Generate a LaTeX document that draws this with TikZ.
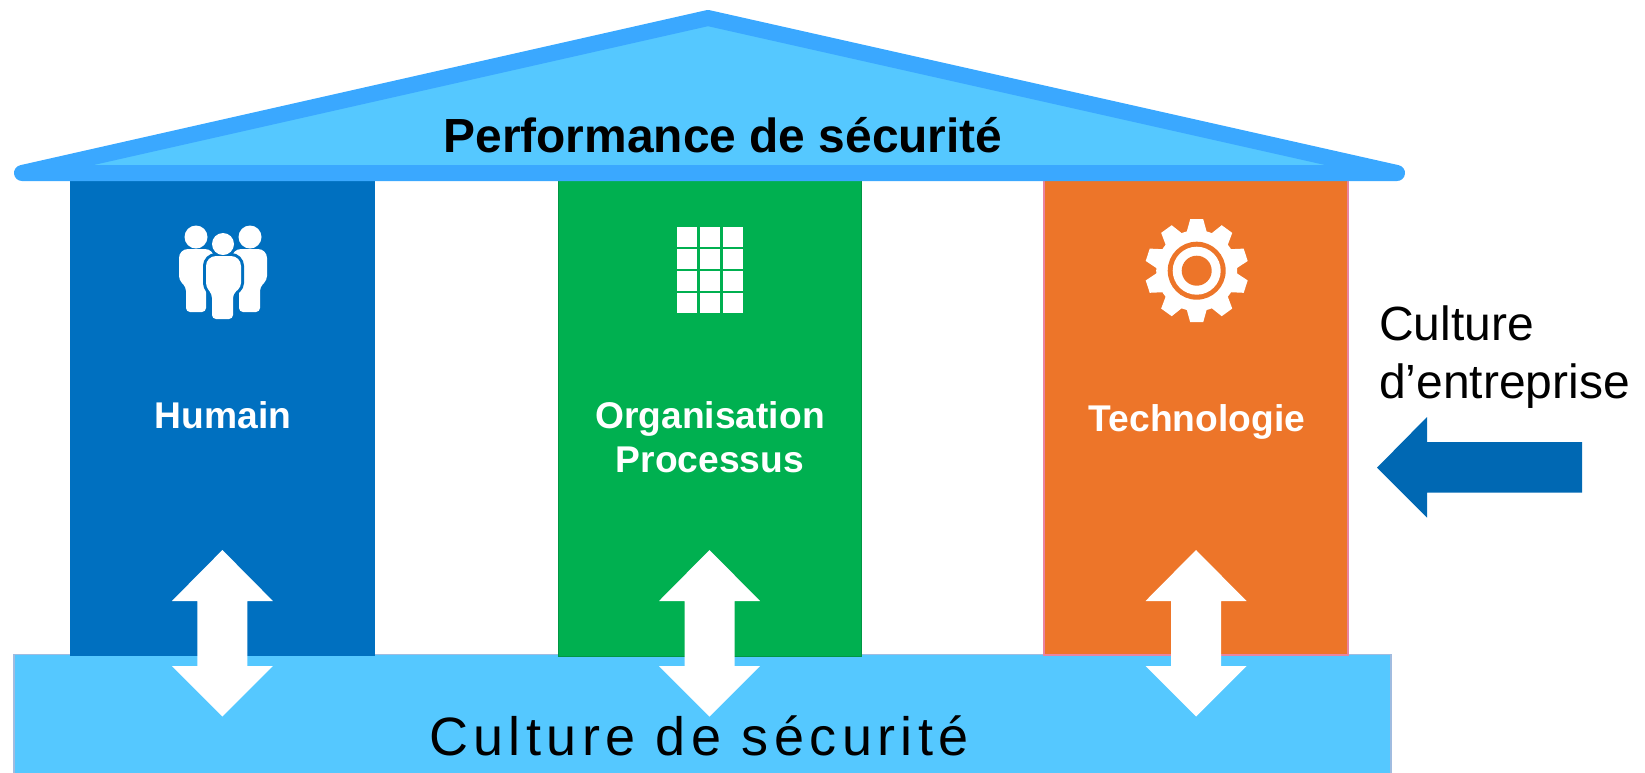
\documentclass[tikz,border=0pt]{standalone}
\usepackage{fontspec}
\setmainfont{Liberation Sans}
\definecolor{roofedge}{HTML}{3AA8FF}
\definecolor{sky}{HTML}{55C8FF}
\definecolor{pblue}{HTML}{0070C0}
\definecolor{pgreen}{HTML}{00B050}
\definecolor{porange}{HTML}{ED7529}
\definecolor{orangeedge}{HTML}{E884A0}
\definecolor{baseedge}{HTML}{A0BCE0}
\definecolor{darrow}{HTML}{0068B3}
\tikzset{
  pillartext/.style={text=white,font=\bfseries\fontsize{37.2}{44}\selectfont,align=center,inner sep=0pt},
  body/.style={fill=white,rounded corners=4pt},
}
\newcommand{\dblarrow}[1]{%
  \fill[white] (#1,550) -- ++(50.5,51) -- ++(-25.5,0) -- (#1+25,666) -- ++(25.5,0) -- (#1,716.5) -- (#1-50.5,666) -- ++(25.5,0) -- (#1-25,601) -- ++(-25.5,0) -- cycle;}
\begin{document}
\begin{tikzpicture}[x=1pt,y=-1pt]
\useasboundingbox (0,0) rectangle (1645,772);
% base
\draw[draw=baseedge,line width=1.5pt,fill=sky] (14,654.5) rectangle (1391,780);
% pillars
\fill[pblue] (70.3,173) rectangle (374.5,656);
\draw[pgreen!85!black,line width=0.8pt,fill=pgreen] (558,173) rectangle (861.5,656);
\draw[draw=orangeedge,line width=1.5pt,fill=porange] (1044,173) rectangle (1348,655);
% roof
\draw[draw=roofedge,fill=sky,line width=16pt,line join=round] (22,173) -- (708,18) -- (1397,173) -- cycle;
% double arrows
\dblarrow{222.4}
\dblarrow{709.5}
\dblarrow{1196}
% left arrow
\fill[darrow] (1377,467.7) -- (1427,417) -- (1427,442) -- (1582,442) -- (1582,492.7) -- (1427,492.7) -- (1427,517.7) -- cycle;
% text
\node[font=\bfseries\fontsize{47.9}{52}\selectfont,inner sep=0pt] (title) at (723,135) {Performance de sécurité};
\node[pillartext] (hum) at (223,415) {Humain};
\node[pillartext] (org) at (710,437.5) {Organisation\\Processus};
\node[pillartext] (tec) at (1197,422) {Technologie};
\node[font=\fontsize{48}{58}\selectfont,align=left,anchor=west,inner sep=0pt] (ent) at (1379,357) {Culture\\d’entreprise};
\node[font=\fontsize{54}{60}\selectfont,inner sep=0pt,anchor=base] (base) at (699,755) {\addfontfeature{LetterSpace=10}Culture de sécurité};
% people icon
\fill[white] (196,237) circle (11.5) (250,237) circle (11.5);
\fill[body] (186,312) -- (186,287) -- (179,280) [rounded corners=9pt] -- (179,249) -- (214,249) [rounded corners=4pt] -- (214,282) -- (206,288) -- (206,312) -- cycle;
\fill[body] (232,282) [rounded corners=9pt] -- (232,249) -- (267,249) [rounded corners=4pt] -- (267,280) -- (260,287) -- (260,312) -- (239,312) -- (239,288) -- cycle;
\draw[pblue,line width=6pt,rounded corners=4pt] (212,319) -- (212,294) -- (206,287) [rounded corners=10pt] -- (206,256) -- (241,256) [rounded corners=4pt] -- (241,287) -- (233,294) -- (233,319) -- cycle;
\fill[body] (212,319) -- (212,294) -- (206,287) [rounded corners=10pt] -- (206,256) -- (241,256) [rounded corners=4pt] -- (241,287) -- (233,294) -- (233,319) -- cycle;
\fill[white] (223,244) circle (11);
% grid icon
\foreach \i in {0,1,2}{\foreach \j in {0,1,2,3}{
  \fill[white] (677+\i*23,227+\j*22) rectangle ++(20,20);}}
% gear icon
\begin{scope}[shift={(1196.7,270.7)}]
\foreach \a in {90,54,18,-18,-54,-90,-126,-162,162,126}{
  \fill[white,rotate=\a] (37,-10.5) -- (51.5,-6.5) -- (51.5,6.5) -- (37,10.5) -- cycle;}
\fill[white] (0,0) circle (40.5);
\fill[porange] (0,0) circle (29);
\fill[white] (0,0) circle (24);
\fill[porange] (0,0) circle (15);
\end{scope}
\end{tikzpicture}
\end{document}
